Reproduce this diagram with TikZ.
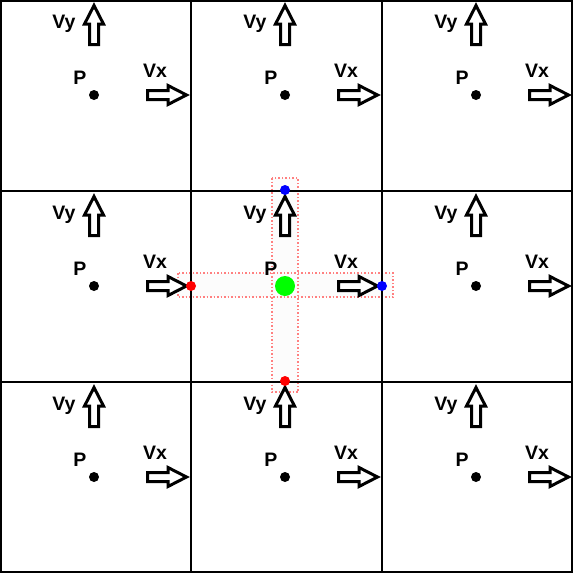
\documentclass[tikz,border=0pt]{standalone}
\usepackage{fontspec}
\setmainfont{Liberation Sans}
\usepackage{tikz}
\usetikzlibrary{positioning}

\tikzset{
    pics/velarrow/.style={code={
        \draw[blockarrow] (1.5,-4.5) -- (22,-4.5) -- (22,-9.5) -- (40.5,0) -- (22,9.5) -- (22,4.5) -- (1.5,4.5) -- cycle;
    }}
}

\begin{document}
\begin{tikzpicture}[
    x=1pt, y=-1pt,
    gridline/.style={line width=2pt, draw=black},
    dot/.style={circle, fill=black, inner sep=0pt, minimum size=10pt},
    lbl/.style={font=\bfseries\fontsize{19.5}{22}\selectfont, inner sep=0pt, anchor=base},
    blockarrow/.style={line width=3pt, draw=black, fill=white, line join=miter},
    stencil/.style={draw=red!50, dotted, line width=1.5pt, fill=black!1}
]
\useasboundingbox (0,0) rectangle (573,573);

% stencil of the centre cell
\draw[stencil] (178,273) rectangle (393,297);
\draw[stencil] (272,178) rectangle (298,392);
\draw[draw=red!50, dotted, line width=1.5pt] (178,273) rectangle (393,297);

% grid
\draw[gridline] (1,1) rectangle (572,572);
\draw[gridline] (191,1) -- (191,572);
\draw[gridline] (382,1) -- (382,572);
\draw[gridline] (1,191) -- (572,191);
\draw[gridline] (1,382) -- (572,382);

% cells
\foreach \i in {0,1,2} {
  \foreach \j in {0,1,2} {
    \begin{scope}[shift={(191*\i,191*\j)}]
      \node[dot] (p\i\j) at (94,95) {};
      \node[lbl] (plabel\i\j) at (80,84) {P};
      \pic[rotate=90] at (94,46) {velarrow};
      \node[lbl] (vylabel\i\j) at (64,28) {Vy};
      \pic at (146,95) {velarrow};
      \node[lbl] (vxlabel\i\j) at (155,77) {Vx};
    \end{scope}
  }
}

% centre and face points
\node[dot, fill=green, minimum size=20pt] (centre) at (285,286) {};
\node[dot, fill=red] (west) at (191,286) {};
\node[dot, fill=blue] (east) at (382,286) {};
\node[dot, fill=blue] (north) at (285,190) {};
\node[dot, fill=red] (south) at (285,381) {};
\end{tikzpicture}
\end{document}
